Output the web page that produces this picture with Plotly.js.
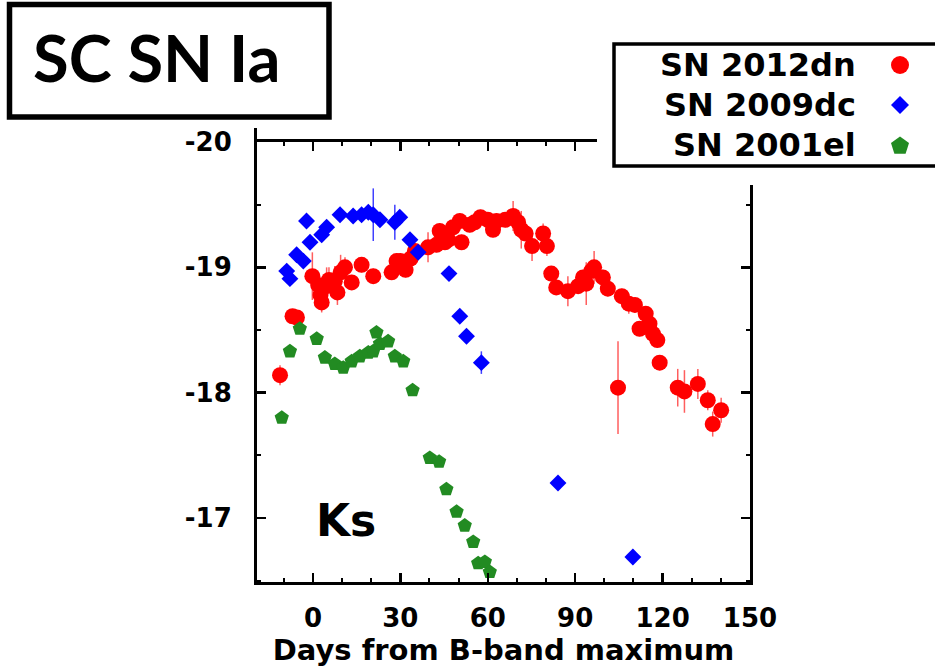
<!DOCTYPE html>
<html><head><meta charset="utf-8">
<script src="https://cdn.plot.ly/plotly-3.0.1.min.js"></script>
<style>html,body{margin:0;padding:0;background:#fff}#chart{width:935px;height:672px}</style>
</head><body><div id="chart"></div>
<script>
// SN 2012dn (red circles)
const sn2012dn_days = [-11.3, -7.0, -5.5, -0.2, 1.8, 2.6, 3.0, 4.7, 5.5, 7.5, 8.4, 9.5, 11.0, 13.3, 16.7, 20.7, 27.0, 28.7, 30.0, 31.8, 33.5, 35.0,
  39.5, 42.4, 43.5, 45.3, 46.4, 48.1, 50.4, 51.0, 53.8, 55.5, 57.5, 60.0, 61.8, 63.0, 66.0, 68.7, 70.4, 71.5, 73.0, 75.2, 79.0, 80.3,
  81.8, 83.5, 87.5, 91.0, 92.7, 93.8, 95.5, 96.5, 99.5, 101.2, 104.7, 106.0, 108.4, 110.5, 112.1, 114.2, 115.5, 116.7, 118.2, 119.0,
  125.2, 127.5, 132.1, 135.5, 137.2, 140.1];
const sn2012dn_mag = [-18.14, -18.61, -18.60, -18.93, -18.86, -18.78, -18.72, -18.85, -18.90, -18.89, -18.80, -18.96, -19.00, -18.88, -19.02, -18.93, -18.96, -19.05, -19.05, -18.98, -19.07, -19.13,
  -19.16, -19.18, -19.29, -19.20, -19.22, -19.32, -19.37, -19.20, -19.34, -19.36, -19.40, -19.38, -19.30, -19.37, -19.38, -19.41, -19.36, -19.30, -19.27, -19.17, -19.27, -19.17,
  -18.95, -18.84, -18.81, -18.85, -18.92, -18.87, -18.97, -19.00, -18.92, -18.83, -18.04, -18.77, -18.71, -18.70, -18.51, -18.63, -18.55, -18.47, -18.42, -18.24,
  -18.04, -18.01, -18.07, -17.94, -17.75, -17.86];
const sn2012dn_err = [0.08, 0.05, 0.05, 0.19, 0.08, 0.10, 0.08, 0.15, 0.10, 0.12, 0.10, 0.14, 0.08, 0.06, 0.06, 0.06, 0.05, 0.06, 0.06, 0.06, 0.06, 0.06,
  0.12, 0.06, 0.06, 0.06, 0.06, 0.06, 0.06, 0.06, 0.06, 0.06, 0.06, 0.06, 0.06, 0.06, 0.06, 0.12, 0.10, 0.15, 0.06, 0.12, 0.08, 0.08,
  0.06, 0.06, 0.12, 0.06, 0.06, 0.17, 0.06, 0.13, 0.06, 0.06, 0.37, 0.06, 0.08, 0.06, 0.06, 0.06, 0.06, 0.06, 0.06, 0.06,
  0.15, 0.17, 0.12, 0.08, 0.10, 0.10];

// SN 2009dc (blue diamonds)
const sn2009dc_days = [-9.0, -7.9, -5.6, -3.3, -2.2, -1.0, 3.0, 4.7, 9.3, 13.8, 16.7, 19.0, 20.7, 23.0, 28.1, 29.8, 33.3, 36.1, 46.7, 50.4, 52.7, 57.8, 84.1, 109.8];
const sn2009dc_mag = [-18.97, -18.91, -19.10, -19.05, -19.37, -19.20, -19.26, -19.32, -19.42, -19.41, -19.42, -19.44, -19.42, -19.38, -19.36, -19.40, -19.22, -19.12, -18.95, -18.61, -18.45, -18.24, -17.28, -16.69];
const sn2009dc_err = [0.03, 0.03, 0.03, 0.03, 0.03, 0.03, 0.05, 0.05, 0.03, 0.03, 0.03, 0.05, 0.21, 0.04, 0.14, 0.05, 0.04, 0.04, 0.03, 0.03, 0.03, 0.09, 0.03, 0.06];

// SN 2001el (green pentagons)
const sn2001el_days = [-10.7, -7.9, -4.5, 1.3, 4.1, 7.5, 10.4, 13.3, 16.1, 19.0, 20.7, 21.8, 23.0, 25.8, 28.1, 31.0, 34.2, 40.1, 43.3, 45.8, 49.3, 52.1, 55.0, 56.7, 59.0, 60.7];
const sn2001el_mag = [-17.80, -18.33, -18.51, -18.43, -18.28, -18.23, -18.20, -18.25, -18.29, -18.32, -18.33, -18.48, -18.39, -18.41, -18.29, -18.25, -18.02, -17.48, -17.45, -17.23, -17.05, -16.94, -16.81, -16.64, -16.65, -16.57];

const seriesNames = ['SN 2012dn', 'SN 2009dc', 'SN 2001el'];
const xTickVals = [0, 30, 60, 90, 120, 150];
const xTickText = ['0', '30', '60', '90', '120', '150'];
const yTickVals = [-20, -19, -18, -17];
const yTickText = ['-20', '-19', '-18', '-17'];

const W = 935, H = 672;
const M = {l: 257, r: 185, t: 142, b: 90};
const PW = W - M.l - M.r, PH = H - M.t - M.b;
const px = v => (v - M.l) / PW;
const py = v => 1 - (v - M.t) / PH;

const traces = [
  {type: 'scatter', mode: 'markers', name: seriesNames[0], x: sn2012dn_days, y: sn2012dn_mag,
   error_y: {type: 'data', array: sn2012dn_err, visible: true, color: 'rgba(255,40,40,0.75)', thickness: 1.5, width: 0},
   marker: {symbol: 'circle', size: 16, color: '#ff0000'}},
  {type: 'scatter', mode: 'markers', name: seriesNames[1], x: sn2009dc_days, y: sn2009dc_mag,
   error_y: {type: 'data', array: sn2009dc_err, visible: true, color: 'rgba(0,0,255,0.75)', thickness: 1.5, width: 0},
   marker: {symbol: 'diamond', size: 13, color: '#0000ff'}},
  {type: 'scatter', mode: 'markers', name: seriesNames[2], x: sn2001el_days, y: sn2001el_mag,
   marker: {symbol: 'pentagon', size: 15, color: '#228b22'}}
];

const tickFont = {family: 'DejaVu Sans', size: 26, weight: 'bold', color: '#000'};

// legend drawn manually: text then symbol
const legRowsY = [65, 105, 145];
const legTextX = 858, legMarkX = 900;
const shapes = [
  {type: 'rect', xref: 'paper', yref: 'paper', x0: px(597), x1: px(940), y0: py(185), y1: py(-5), fillcolor: '#fff', line: {width: 0}, layer: 'above'},
  {type: 'rect', xref: 'paper', yref: 'paper', x0: px(614), x1: px(945), y0: py(166), y1: py(44), fillcolor: 'rgba(0,0,0,0)', line: {color: '#000', width: 3.5}, layer: 'above'},
  {type: 'line', xref: 'paper', yref: 'paper', x0: px(255.5), x1: px(255.5), y0: py(128), y1: py(143), line: {color: '#000', width: 3}, layer: 'above'},
  {type: 'rect', xref: 'paper', yref: 'paper', x0: px(9.5), x1: px(329), y0: py(117), y1: py(4.5), fillcolor: 'rgba(0,0,0,0)', line: {color: '#000', width: 5.5}, layer: 'above'},
  {type: 'circle', xref: 'paper', yref: 'paper', x0: px(legMarkX - 9), x1: px(legMarkX + 9), y0: py(legRowsY[0] + 9), y1: py(legRowsY[0] - 9), fillcolor: '#ff0000', line: {width: 0}, layer: 'above'},
  {type: 'path', xref: 'paper', yref: 'paper', layer: 'above', fillcolor: '#0000ff', line: {width: 0},
   path: `M ${px(legMarkX)} ${py(legRowsY[1] - 9)} L ${px(legMarkX + 9)} ${py(legRowsY[1])} L ${px(legMarkX)} ${py(legRowsY[1] + 9)} L ${px(legMarkX - 9)} ${py(legRowsY[1])} Z`},
  {type: 'path', xref: 'paper', yref: 'paper', layer: 'above', fillcolor: '#228b22', line: {width: 0},
   path: (function(){ const cx = legMarkX, cy = legRowsY[2] + 1, r = 9.5; let s = '';
     for (let i = 0; i < 5; i++) { const a = -Math.PI/2 + i*2*Math.PI/5; s += (i ? ' L ' : 'M ') + px(cx + r*Math.cos(a)) + ' ' + py(cy + r*Math.sin(a)); }
     return s + ' Z'; })()}
];

const annotations = seriesNames.map((n, i) => ({
  xref: 'paper', yref: 'paper', x: px(legTextX), y: py(legRowsY[i]), xanchor: 'right', yanchor: 'middle',
  text: n, showarrow: false, font: {family: 'DejaVu Sans', size: 32, weight: 'bold', color: '#000'}
}));
annotations.push({xref: 'paper', yref: 'paper', x: px(156), y: py(57), xanchor: 'center', yanchor: 'middle',
  text: 'SC SN Ia', showarrow: false, font: {family: 'Lato', size: 65, weight: 'bold', color: '#000'}});
annotations.push({xref: 'paper', yref: 'paper', x: px(346), y: py(520), xanchor: 'center', yanchor: 'middle',
  text: 'Ks', showarrow: false, font: {family: 'DejaVu Sans', size: 44, weight: 'bold', color: '#000'}});

const layout = {
  width: W, height: H, margin: M, showlegend: false,
  paper_bgcolor: '#fff', plot_bgcolor: '#fff',
  xaxis: {range: [-19.2, 150], tickmode: 'array', tickvals: xTickVals, ticktext: xTickText, ticks: 'inside', ticklen: 9, tickwidth: 2.5, tickcolor: '#000',
    showline: true, linewidth: 3, linecolor: '#000', mirror: 'ticks', showgrid: false, zeroline: false,
    minor: {tickmode: 'linear', tick0: 0, dtick: 10, ticks: 'inside', ticklen: 4, tickwidth: 2, tickcolor: '#000', showgrid: false},
    tickfont: tickFont, ticklabelstandoff: 11,
    title: {text: 'Days from B-band maximum', font: {family: 'DejaVu Sans', size: 29, weight: 'bold', color: '#000'}, standoff: 0}},
  yaxis: {range: [-16.49, -20.0], tickmode: 'array', tickvals: yTickVals, ticktext: yTickText, ticks: 'inside', ticklen: 9, tickwidth: 2.5, tickcolor: '#000',
    showline: true, linewidth: 3, linecolor: '#000', mirror: 'ticks', showgrid: false, zeroline: false,
    minor: {tickmode: 'linear', tick0: -20, dtick: 0.5, ticks: 'inside', ticklen: 4, tickwidth: 2, tickcolor: '#000', showgrid: false},
    tickfont: tickFont, ticklabelstandoff: 17},
  shapes: shapes, annotations: annotations
};

Plotly.newPlot('chart', traces, layout, {staticPlot: true, displayModeBar: false});
</script>
</body></html>
